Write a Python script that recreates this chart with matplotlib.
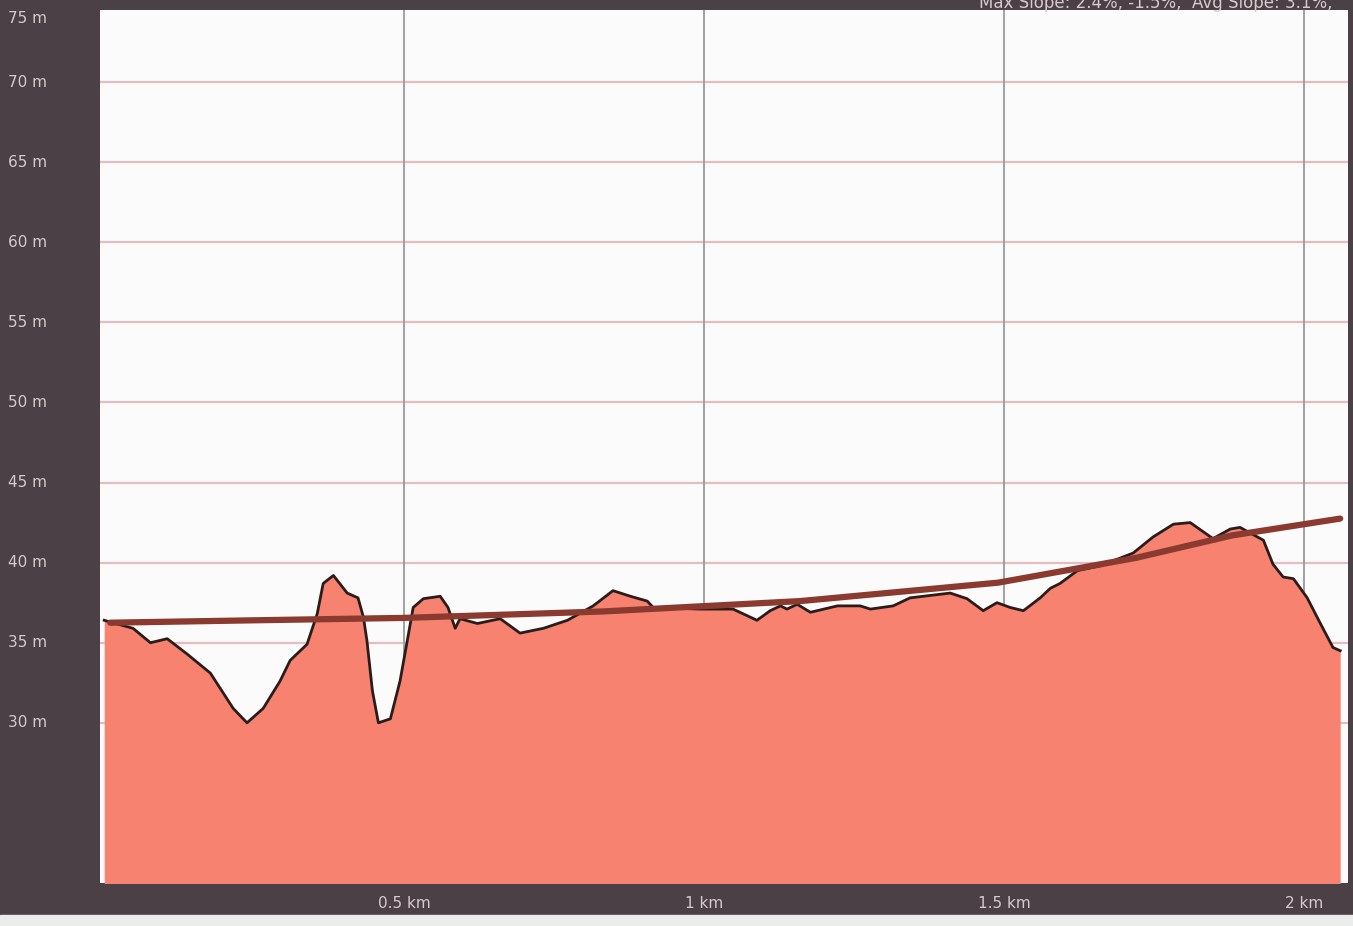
import matplotlib
matplotlib.use("Agg")
import matplotlib.pyplot as plt
from matplotlib.patches import Rectangle

# ---- Data ----
DIST_KM = [
    0.0, 0.048, 0.077, 0.105, 0.138, 0.177, 0.215, 0.238, 0.265, 0.293,
    0.310, 0.338, 0.355, 0.365, 0.382, 0.405, 0.423, 0.432, 0.438, 0.447,
    0.457, 0.477, 0.493, 0.505, 0.515, 0.532, 0.560, 0.573, 0.585, 0.593,
    0.622, 0.660, 0.693, 0.732, 0.772, 0.815, 0.848, 0.877, 0.905, 0.915,
    0.993, 1.048, 1.088, 1.110, 1.127, 1.138, 1.155, 1.177, 1.222, 1.260,
    1.277, 1.315, 1.343, 1.410, 1.438, 1.465, 1.488, 1.510, 1.532, 1.560,
    1.577, 1.593, 1.622, 1.660, 1.715, 1.748, 1.782, 1.810, 1.848, 1.877,
    1.893, 1.932, 1.948, 1.965, 1.982, 2.005, 2.027, 2.048, 2.060,
]
ELEV_M = [
    36.4, 35.9, 35.0, 35.25, 34.3, 33.1, 30.9, 30.0, 30.9, 32.6,
    33.9, 34.9, 36.8, 38.7, 39.2, 38.1, 37.8, 36.6, 35.1, 32.0,
    30.0, 30.25, 32.6, 35.1, 37.2, 37.75, 37.9, 37.2, 35.9, 36.5,
    36.2, 36.5, 35.6, 35.9, 36.4, 37.3, 38.25, 37.9, 37.6, 37.2,
    37.1, 37.1, 36.4, 37.0, 37.3, 37.1, 37.4, 36.9, 37.3, 37.3,
    37.1, 37.3, 37.8, 38.1, 37.75, 37.0, 37.5, 37.2, 37.0, 37.8,
    38.4, 38.7, 39.5, 39.8, 40.6, 41.6, 42.4, 42.5, 41.5, 42.1,
    42.2, 41.4, 39.9, 39.1, 39.0, 37.8, 36.2, 34.7, 34.5,
]

TREND_KM = [0.01, 0.25, 0.5, 0.83, 1.16, 1.49, 1.72, 1.88, 2.06]
TREND_M = [36.25, 36.4, 36.55, 36.95, 37.6, 38.75, 40.3, 41.7, 42.75]

Y_TICKS = [30, 35, 40, 45, 50, 55, 60, 65, 70]
Y_LABELS = [f"{v} m" for v in Y_TICKS]
X_TICKS = [0.5, 1.0, 1.5, 2.0]
X_LABELS = ["0.5 km", "1 km", "1.5 km", "2 km"]
HEADER = "Max Slope: 2.4%, -1.5%,  Avg Slope: 3.1%,"

# ---- Style ----
DARK = "#4a4045"
LABEL = "#d9c9cd"
FILL = "#f7826f"
OUTLINE = "#2b1c1c"
TREND = "#8a3a2e"
HGRID = "#e7bcc0"
VGRID = "#9a9a9a"


def plot_profile():
    fig = plt.figure(figsize=(13.53, 9.26), dpi=100)
    fig.patch.set_facecolor(DARK)
    # light strip at the bottom edge of the photo
    fig.patches.append(Rectangle((0, 0), 1, 11 / 926, transform=fig.transFigure,
                                 color="#ececec", zorder=0))

    ax = fig.add_axes([100 / 1353, 43 / 926, 1248 / 1353, 873 / 926])
    ax.set_facecolor("#fbfbfb")

    ax.fill_between(DIST_KM, ELEV_M, 0, color=FILL, zorder=2, lw=0)
    ax.plot(DIST_KM, ELEV_M, color=OUTLINE, lw=2.0, zorder=3,
            solid_joinstyle="round")
    ax.plot(TREND_KM, TREND_M, color=TREND, lw=4.5, zorder=4,
            solid_capstyle="round")

    ax.set_xlim(-0.007, 2.073)
    ax.set_ylim(20, 74.5)

    for y in Y_TICKS:
        ax.axhline(y, color=HGRID, lw=1.6, zorder=1)
    for x in X_TICKS:
        ax.axvline(x, color=VGRID, lw=1.3, zorder=1)

    ax.set_yticks(Y_TICKS)
    ax.set_yticklabels([])
    ax.set_xticks(X_TICKS)
    ax.set_xticklabels(X_LABELS)
    ax.tick_params(axis="y", length=0)
    ax.tick_params(axis="x", length=0, pad=9, labelsize=11, labelcolor=LABEL)
    for side in ax.spines.values():
        side.set_visible(False)

    # y labels sit flush left in the dark margin
    ytrans = ax.get_yaxis_transform()
    for y, lbl in zip(Y_TICKS, Y_LABELS):
        ax.text(-0.074, y, lbl, transform=ytrans, ha="left", va="center",
                fontsize=11, color=LABEL, clip_on=False)
    # top label is cut by the frame, sits a bit below its own level
    ax.text(-0.074, 74.0, "75 m", transform=ytrans, ha="left", va="center",
            fontsize=11, color=LABEL, clip_on=False)
    fig.text(0.985, 0.997, HEADER, ha="right", va="center",
             fontsize=12, color=LABEL)

    fig.savefig("out.png", dpi=100, facecolor=fig.get_facecolor())


def main():
    plot_profile()


if __name__ == "__main__":
    main()
